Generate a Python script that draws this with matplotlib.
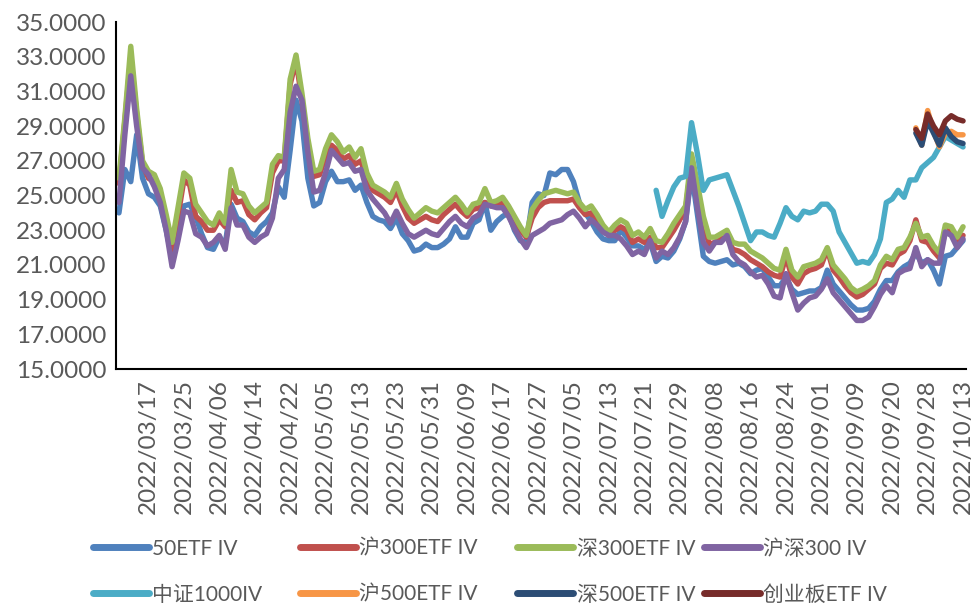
import matplotlib
matplotlib.use('Agg')
import matplotlib.pyplot as plt
from matplotlib.ticker import FormatStrFormatter, FixedLocator, FixedFormatter
import numpy as np
import pandas as pd

# trading days (exchange holidays removed)
holidays = ['2022-04-04', '2022-04-05', '2022-05-02', '2022-05-03', '2022-05-04',
            '2022-06-03', '2022-09-12', '2022-10-03', '2022-10-04', '2022-10-05',
            '2022-10-06', '2022-10-07']
dates = pd.bdate_range('2022-03-10', '2022-10-13', freq='C', holidays=holidays)

iv_50etf = [
    24.0, 26.5, 25.8, 28.5, 26.0, 25.1, 24.9, 24.4, 23.0, 21.4, 22.9, 24.4, 24.5, 23.8, 22.8, 22.0,
    21.9, 22.6, 22.2, 24.5, 23.7, 23.5, 22.9, 22.7, 23.2, 23.5, 24.0, 25.5, 24.9, 27.6, 30.5, 29.3,
    26.0, 24.4, 24.6, 25.8, 26.4, 25.8, 25.8, 25.9, 25.3, 25.6, 24.6, 23.8, 23.6, 23.5, 23.1, 23.7,
    22.8, 22.4, 21.8, 21.9, 22.2, 22.0, 22.0, 22.2, 22.5, 23.2, 22.6, 22.6, 23.4, 23.6, 24.6, 23.0,
    23.5, 23.8, 24.0, 23.0, 22.4, 22.3, 24.6, 25.1, 25.0, 26.3, 26.2, 26.5, 26.5, 25.8, 24.6, 24.0,
    23.5, 22.9, 22.5, 22.4, 22.4, 23.0, 22.6, 22.1, 22.1, 21.9, 22.3, 21.2, 21.5, 21.4, 21.8, 22.5,
    23.5, 26.3, 23.9, 21.5, 21.2, 21.1, 21.2, 21.3, 21.0, 21.1, 20.9, 20.5, 20.7, 20.8, 20.3, 19.8,
    19.8, 20.3, 19.6, 19.3, 19.4, 19.5, 19.5, 19.7, 20.7, 19.9, 19.5, 19.1, 18.7, 18.4, 18.4, 18.5,
    18.9, 19.6, 20.1, 20.1, 20.6, 20.9, 21.1, 21.7, 21.1, 21.3, 20.7, 19.9, 21.5, 21.6, 22.0, 22.4]

iv_sh300etf = [
    25.7, 29.3, 33.0, 29.7, 26.8, 26.0, 25.8, 25.0, 23.5, 21.9, 23.8, 25.9, 25.6, 23.8, 23.5, 23.0,
    23.0, 23.6, 23.2, 25.3, 24.6, 24.7, 23.9, 23.6, 24.0, 24.3, 26.3, 27.0, 27.0, 31.4, 32.8, 30.5,
    28.0, 26.1, 26.2, 27.3, 27.9, 27.6, 27.1, 27.3, 26.8, 27.0, 25.9, 25.3, 25.1, 24.9, 24.6, 25.3,
    24.4, 23.7, 23.4, 23.6, 23.8, 23.6, 23.5, 23.9, 24.2, 24.5, 24.1, 23.8, 24.2, 24.3, 24.6, 24.4,
    24.5, 24.6, 24.1, 23.5, 23.0, 22.6, 23.7, 24.3, 24.6, 24.7, 24.7, 24.7, 24.7, 24.8, 24.3, 23.9,
    24.0, 23.4, 23.0, 22.7, 23.0, 23.2, 23.0, 22.3, 22.5, 22.3, 22.6, 22.0, 22.0, 22.5, 23.0, 23.6,
    24.2, 27.0, 25.2, 23.3, 22.2, 22.3, 22.5, 22.6, 21.9, 21.8, 21.6, 21.3, 21.1, 20.9, 20.6, 20.4,
    20.3, 21.5, 20.3, 19.9, 20.5, 20.7, 20.8, 21.0, 21.9, 20.7, 20.3, 19.8, 19.4, 19.15, 19.3, 19.6,
    19.9, 20.8, 21.1, 21.0, 21.6, 21.8, 22.4, 23.6, 22.4, 22.3, 21.8, 21.4, 23.0, 22.9, 22.3, 22.7]

iv_sz300etf = [
    26.0, 29.5, 33.6, 30.0, 27.0, 26.4, 26.2, 25.4, 23.9, 22.3, 24.3, 26.3, 26.0, 24.5, 24.0, 23.5,
    23.3, 24.0, 23.4, 26.5, 25.2, 25.1, 24.4, 24.0, 24.3, 24.6, 26.8, 27.3, 27.2, 31.7, 33.1, 30.9,
    28.3, 26.4, 26.5, 27.7, 28.5, 28.1, 27.5, 27.8, 27.2, 27.7, 26.3, 25.6, 25.4, 25.2, 24.9, 25.7,
    24.8, 24.2, 23.7, 24.0, 24.3, 24.1, 24.0, 24.3, 24.6, 24.9, 24.5, 24.0, 24.5, 24.6, 25.4, 24.6,
    24.7, 24.9, 24.4, 23.8, 23.2, 22.7, 24.2, 24.7, 25.1, 25.2, 25.3, 25.2, 25.1, 25.2, 24.6, 24.2,
    24.4, 23.9, 23.3, 22.9, 23.3, 23.6, 23.4, 22.7, 22.9, 22.6, 23.1, 22.4, 22.3, 22.8, 23.4, 23.9,
    24.4, 27.4, 25.7, 23.8, 22.6, 22.6, 22.8, 23.0, 22.3, 22.2, 22.2, 21.8, 21.6, 21.4, 21.1, 20.8,
    20.7, 21.9, 20.7, 20.3, 20.9, 21.0, 21.1, 21.3, 22.0, 21.0, 20.6, 20.2, 19.7, 19.45, 19.6, 19.8,
    20.1, 21.0, 21.5, 21.3, 21.9, 22.0, 22.6, 23.4, 22.6, 22.7, 22.1, 21.7, 23.3, 23.2, 22.6, 23.2]

iv_hs300 = [
    24.6, 28.5, 31.9, 29.0, 26.6, 26.2, 25.5, 24.6, 23.0, 20.9, 22.4, 24.1, 24.0, 22.8, 22.6, 22.1,
    22.3, 22.7, 21.9, 24.3, 23.3, 23.3, 22.6, 22.3, 22.6, 22.8, 23.7, 26.0, 26.5, 29.8, 31.3, 30.5,
    27.5, 25.2, 25.3, 26.3, 27.6, 27.2, 26.8, 26.9, 26.4, 26.5, 25.3, 24.8, 24.4, 24.0, 23.4, 24.1,
    23.4, 22.8, 22.6, 22.8, 23.0, 22.8, 22.7, 23.1, 23.5, 23.8, 23.4, 23.2, 23.7, 23.9, 24.5, 24.4,
    24.3, 24.3, 23.8, 23.1, 22.5, 22.0, 22.7, 22.9, 23.1, 23.4, 23.5, 23.6, 23.9, 24.1, 23.7, 23.2,
    23.6, 23.3, 22.9, 22.7, 22.7, 22.5, 22.1, 21.6, 21.8, 21.6, 22.4, 21.4, 21.8, 21.6, 22.0, 22.6,
    23.5, 26.6, 24.3, 22.3, 21.8, 22.3, 22.3, 22.7, 21.6, 21.2, 21.0, 20.6, 20.3, 20.4, 19.9, 19.2,
    19.1, 20.5, 19.4, 18.4, 18.8, 19.1, 19.2, 19.6, 20.2, 19.4, 19.0, 18.6, 18.2, 17.8, 17.8, 18.0,
    18.6, 19.3, 19.8, 19.4, 20.5, 20.7, 20.8, 22.0, 20.9, 21.3, 21.1, 21.1, 22.9, 22.7, 22.0, 22.5]

# listed later: series start dates
zz1000_start = '2022-07-25'
iv_zz1000 = [
    25.3, 23.8, 24.7, 25.5, 26.0, 26.1, 29.2, 27.4, 25.3, 25.9, 26.0, 26.1, 26.2, 25.3, 24.4, 23.4,
    22.4, 22.9, 22.9, 22.7, 22.6, 23.4, 24.3, 23.8, 23.6, 24.1, 24.0, 24.1, 24.5, 24.5, 24.1, 22.9,
    22.3, 21.7, 21.1, 21.2, 21.1, 21.6, 22.5, 24.6, 24.8, 25.3, 24.9, 25.9, 25.9, 26.6, 26.9, 27.2,
    27.8, 28.4, 28.2, 28.0, 27.8]

etf500_start = '2022-09-26'
iv_sh500etf = [28.9, 27.9, 29.9, 28.7, 27.8, 28.6, 28.7, 28.5, 28.5]
iv_sz500etf = [28.6, 27.9, 29.3, 28.6, 27.9, 28.9, 28.4, 28.1, 28.0]
iv_cybetf = [28.8, 28.3, 29.7, 29.0, 28.5, 29.3, 29.6, 29.4, 29.3]

df = pd.DataFrame(index=dates)
df['50ETF IV'] = iv_50etf
df['沪300ETF IV'] = iv_sh300etf
df['深300ETF IV'] = iv_sz300etf
df['沪深300 IV'] = iv_hs300
df['中证1000IV'] = pd.Series(iv_zz1000, index=dates[dates >= zz1000_start])
late = dates[dates >= etf500_start]
df['沪500ETF IV'] = pd.Series(iv_sh500etf, index=late)
df['深500ETF IV'] = pd.Series(iv_sz500etf, index=late)
df['创业板ETF IV'] = pd.Series(iv_cybetf, index=late)

colors = ['#4F81BD', '#C0504D', '#9BBB59', '#8064A2',
          '#4BACC6', '#F79646', '#2C4D75', '#772C2A']

plt.rcParams['font.family'] = ['Lato', 'Noto Sans CJK SC', 'DejaVu Sans']
txt = '#595959'

fig = plt.figure(figsize=(9.74, 6.05), dpi=100)
ax = fig.add_axes([0.1191, 0.390, 0.8727, 0.5736])

x = np.arange(len(df))
handles = []
for col, c in zip(df.columns, colors):
    h, = ax.plot(x, df[col].values, color=c, lw=3.9,
                 solid_capstyle='round', solid_joinstyle='round', label=col)
    handles.append(h)

ax.set_xlim(-0.5, len(df) - 0.5)
ax.set_ylim(15, 35)
ax.yaxis.set_major_locator(FixedLocator(np.arange(15, 35.1, 2)))
ax.yaxis.set_major_formatter(FormatStrFormatter('%.4f'))

tick_pos = list(range(5, len(df), 6))
ax.xaxis.set_major_locator(FixedLocator(tick_pos))
ax.xaxis.set_major_formatter(FixedFormatter([dates[i].strftime('%Y/%m/%d') for i in tick_pos]))
plt.setp(ax.get_xticklabels(), rotation=90)

ax.tick_params(length=0, labelsize=17.5, labelcolor=txt)
ax.tick_params(axis='y', pad=7)
ax.tick_params(axis='x', pad=7)

for s in ['top', 'right']:
    ax.spines[s].set_visible(False)
for s in ['left', 'bottom']:
    ax.spines[s].set_color('#000000')
    ax.spines[s].set_linewidth(1.5)

# legend: two entries per column, columns placed like the original
col_x = [0.0955, 0.308, 0.531, 0.7228]
for k, cx in enumerate(col_x):
    pair = [k, k + 4]
    leg = fig.legend([handles[i] for i in pair], [df.columns[i] for i in pair],
                     loc='upper left', bbox_to_anchor=(cx, 0.1099),
                     borderaxespad=0, frameon=False, fontsize=15, handlelength=2.7,
                     handletextpad=0.15, labelspacing=1.25,
                     borderpad=0, labelcolor=txt)
    for line in leg.get_lines():
        line.set_linewidth(5)

fig.savefig('out.png', dpi=100)
